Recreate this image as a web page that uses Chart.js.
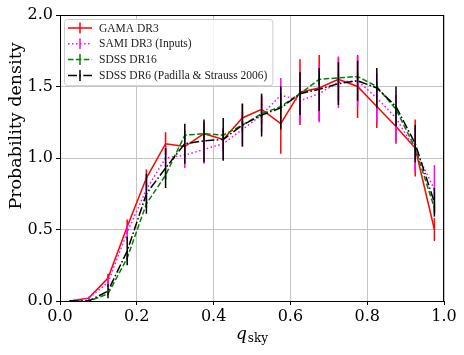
<!DOCTYPE html>
<html>
<head>
<meta charset="utf-8">
<script src="https://cdn.jsdelivr.net/npm/chart.js@4/dist/chart.umd.min.js"></script>
<style>
  body { margin: 0; background: #fff; }
  #wrap { width: 464px; height: 355px; }
</style>
</head>
<body>
<div id="wrap"><canvas id="qskyChart" width="464" height="355"></canvas></div>
<script>
// bin centres of q_sky
var qsky = [0.025, 0.075, 0.125, 0.175, 0.225, 0.275, 0.325, 0.375, 0.425, 0.475,
            0.525, 0.575, 0.625, 0.675, 0.725, 0.775, 0.825, 0.875, 0.925, 0.975];

// GAMA DR3
var gama    = [0.00, 0.02, 0.16, 0.52, 0.86, 1.10, 1.08, 1.17, 1.13, 1.28,
               1.34, 1.24, 1.46, 1.49, 1.55, 1.50, 1.36, 1.22, 1.07, 0.50];
var gamaErr = [0.00, 0.01, 0.03, 0.05, 0.06, 0.08, 0.08, 0.08, 0.08, 0.10,
               0.10, 0.21, 0.23, 0.23, 0.15, 0.22, 0.15, 0.12, 0.20, 0.08];

// SAMI DR3 (inputs)
var sami    = [0.00, 0.02, 0.13, 0.48, 0.78, 1.00, 1.02, 1.06, 1.10, 1.20,
               1.30, 1.44, 1.40, 1.45, 1.53, 1.54, 1.42, 1.28, 1.06, 0.78];
var samiErr = [0.00, 0.01, 0.03, 0.05, 0.08, 0.08, 0.09, 0.10, 0.11, 0.12,
               0.12, 0.12, 0.15, 0.20, 0.18, 0.17, 0.17, 0.16, 0.15, 0.17];

// SDSS DR16
var dr16    = [0.00, 0.00, 0.05, 0.30, 0.68, 0.88, 1.16, 1.17, 1.16, 1.23,
               1.31, 1.36, 1.45, 1.55, 1.56, 1.57, 1.50, 1.34, 1.07, 0.65];
var dr16Err = [0.00, 0.005, 0.01, 0.02, 0.03, 0.03, 0.03, 0.03, 0.03, 0.03,
               0.03, 0.03, 0.03, 0.03, 0.03, 0.03, 0.03, 0.03, 0.03, 0.03];

// SDSS DR6 (Padilla & Strauss 2006)
var dr6     = [0.00, 0.00, 0.07, 0.35, 0.75, 0.93, 1.10, 1.12, 1.13, 1.23,
               1.30, 1.35, 1.45, 1.48, 1.52, 1.54, 1.49, 1.36, 1.10, 0.69];
var dr6Err  = [0.00, 0.01, 0.05, 0.10, 0.14, 0.14, 0.14, 0.15, 0.15, 0.15,
               0.15, 0.15, 0.15, 0.15, 0.15, 0.14, 0.14, 0.14, 0.13, 0.10];

var xTicks = [0.0, 0.2, 0.4, 0.6, 0.8, 1.0];
var yTicks = [0.0, 0.5, 1.0, 1.5, 2.0];

var FONT = "'DejaVu Serif', serif";
var LEGEND_FONT = "'Liberation Serif', serif";

function pts(vals) {
  return vals.map(function (v, i) { return { x: qsky[i], y: v }; });
}

function mkSet(label, vals, errs, color, dash, order) {
  return {
    label: label,
    data: pts(vals),
    errors: errs,
    borderColor: color,
    backgroundColor: color,
    borderWidth: 1.5,
    borderDash: dash,
    pointRadius: 0,
    tension: 0,
    fill: false,
    order: order
  };
}

// vertical error bars, drawn with each dataset
var errorBars = {
  id: 'errorBars',
  afterDatasetDraw: function (chart, args) {
    var ds = chart.data.datasets[args.index];
    var xs = chart.scales.x, ys = chart.scales.y, ctx = chart.ctx;
    ctx.save();
    ctx.strokeStyle = ds.borderColor;
    ctx.lineWidth = 1.5;
    ctx.setLineDash([]);
    ds.data.forEach(function (p, i) {
      var e = ds.errors[i];
      if (!e) return;
      var x = xs.getPixelForValue(p.x);
      ctx.beginPath();
      ctx.moveTo(x, ys.getPixelForValue(Math.max(0, p.y - e)));
      ctx.lineTo(x, ys.getPixelForValue(p.y + e));
      ctx.stroke();
    });
    ctx.restore();
  }
};

// full frame, axis titles, legend box
var extras = {
  id: 'extras',
  afterDraw: function (chart) {
    var ctx = chart.ctx, a = chart.chartArea;
    ctx.save();
    ctx.strokeStyle = '#000';
    ctx.lineWidth = 1;
    ctx.setLineDash([]);
    ctx.strokeRect(a.left + 0.5, a.top + 0.5, a.right - a.left - 1, a.bottom - a.top);

    // y axis title
    ctx.fillStyle = '#000';
    ctx.save();
    ctx.translate(16, 126);
    ctx.rotate(-Math.PI / 2);
    ctx.font = "17.5px " + FONT;
    ctx.textAlign = 'center';
    ctx.textBaseline = 'middle';
    ctx.fillText('Probability density', 0, 0);
    ctx.restore();

    // x axis title: q_sky
    var cx = (a.left + a.right) / 2;
    ctx.textBaseline = 'alphabetic';
    ctx.font = "italic 17px " + FONT;
    var wq = ctx.measureText('q').width;
    ctx.font = "12px " + FONT;
    var ws = ctx.measureText('sky').width;
    var x0 = cx - (wq + ws + 1) / 2;
    ctx.font = "italic 17px " + FONT;
    ctx.fillText('q', x0, 339);
    ctx.font = "12px " + FONT;
    ctx.fillText('sky', x0 + wq + 1, 342);

    // legend
    var sets = chart.data.datasets;
    ctx.font = "11.5px " + LEGEND_FONT;
    var maxW = 0;
    sets.forEach(function (d) { maxW = Math.max(maxW, ctx.measureText(d.label).width); });
    var bx = a.left + 4, by = a.top + 4, rowH = 15.8;
    var bw = 35 + maxW + 5, bh = rowH * sets.length + 3;
    ctx.beginPath();
    ctx.roundRect(bx + 0.5, by + 0.5, bw, bh, 3);
    ctx.fillStyle = 'rgba(255,255,255,0.8)';
    ctx.fill();
    ctx.strokeStyle = '#cccccc';
    ctx.lineWidth = 1;
    ctx.stroke();
    sets.forEach(function (d, i) {
      var y = by + 9 + i * rowH;
      ctx.strokeStyle = d.borderColor;
      ctx.lineWidth = 1.5;
      ctx.setLineDash(d.borderDash || []);
      ctx.beginPath();
      ctx.moveTo(bx + 4, y);
      ctx.lineTo(bx + 28, y);
      ctx.stroke();
      ctx.setLineDash([]);
      ctx.beginPath();
      ctx.moveTo(bx + 16, y - 5.5);
      ctx.lineTo(bx + 16, y + 5.5);
      ctx.stroke();
      ctx.fillStyle = '#222';
      ctx.textBaseline = 'middle';
      ctx.fillText(d.label, bx + 35, y + 0.5);
    });
    ctx.restore();
  }
};

new Chart(document.getElementById('qskyChart'), {
  type: 'line',
  data: {
    datasets: [
      mkSet('GAMA DR3', gama, gamaErr, '#ff0000', [], 4),
      mkSet('SAMI DR3 (Inputs)', sami, samiErr, '#ff00ff', [1.5, 2.5], 3),
      mkSet('SDSS DR16', dr16, dr16Err, '#008000', [5.5, 2.4], 2),
      mkSet('SDSS DR6 (Padilla & Strauss 2006)', dr6, dr6Err, '#000000', [9, 2.4, 1.5, 2.4], 1)
    ]
  },
  options: {
    responsive: false,
    animation: false,
    layout: { padding: { left: 0, right: 20, top: 15, bottom: 0 } },
    plugins: {
      legend: { display: false },
      tooltip: { enabled: false }
    },
    scales: {
      x: {
        type: 'linear',
        min: 0, max: 1,
        afterFit: function (s) { s.height = 54; },
        afterBuildTicks: function (s) { s.ticks = xTicks.map(function (v) { return { value: v }; }); },
        ticks: {
          font: { family: FONT, size: 16 },
          color: '#000',
          padding: 2,
          maxRotation: 0,
          callback: function (v) { return v.toFixed(1); }
        },
        grid: { color: '#c4c4c4', lineWidth: 1, tickColor: '#000', tickLength: 4 },
        border: { color: '#000', width: 1 }
      },
      y: {
        min: 0, max: 2,
        afterFit: function (s) { s.width = 60; },
        afterBuildTicks: function (s) { s.ticks = yTicks.map(function (v) { return { value: v }; }); },
        ticks: {
          font: { family: FONT, size: 16 },
          color: '#000',
          padding: 3,
          callback: function (v) { return v.toFixed(1); }
        },
        grid: { color: '#c4c4c4', lineWidth: 1, tickColor: '#000', tickLength: 4 },
        border: { color: '#000', width: 1 }
      }
    }
  },
  plugins: [errorBars, extras]
});
</script>
</body>
</html>
